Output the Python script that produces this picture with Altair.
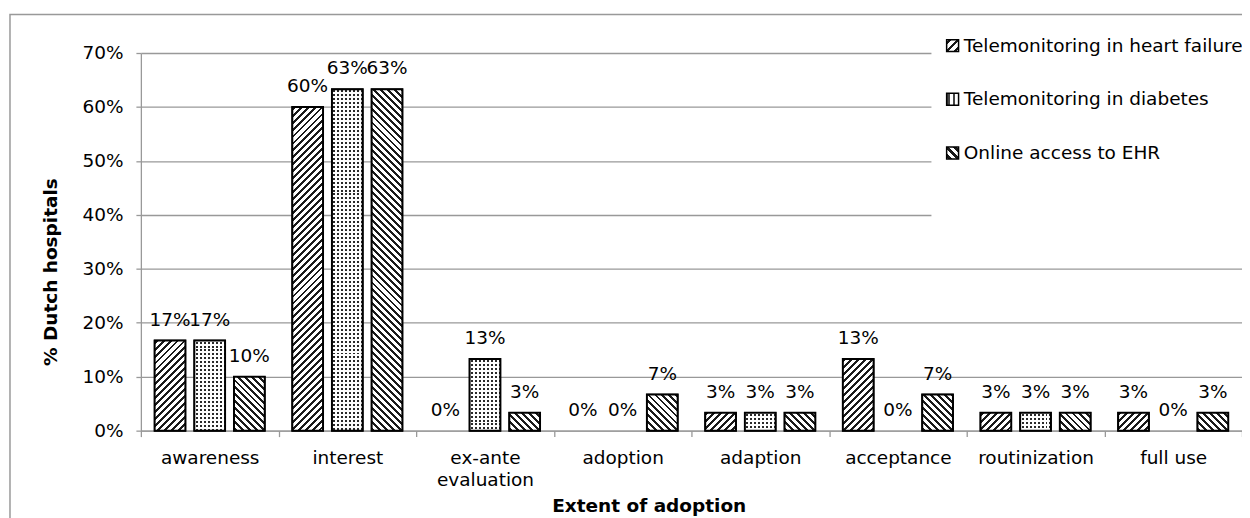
import altair as alt

# ---------------- data ----------------
categories = ["awareness", "interest", "ex-ante evaluation", "adoption",
              "adaption", "acceptance", "routinization", "full use"]
series = ["Telemonitoring in heart failure", "Telemonitoring in diabetes",
          "Online access to EHR"]
heart_failure = [0.167, 0.600, 0.000, 0.000, 0.033, 0.133, 0.033, 0.033]
diabetes = [0.167, 0.633, 0.133, 0.000, 0.033, 0.000, 0.033, 0.000]
online_ehr = [0.100, 0.633, 0.033, 0.067, 0.033, 0.067, 0.033, 0.033]
y_ticks = [0.0, 0.1, 0.2, 0.3, 0.4, 0.5, 0.6, 0.7]

# ---------------- layout / style ----------------
FONT = "DejaVu Sans"
FS = 18.6
PLOT_W, PLOT_H = 1108, 380
Y_MAX = 0.7
PAD_IN, PAD_OUT = 0.225, 0.347
GROUP = PLOT_W / len(categories)
STEP = GROUP / (3 - PAD_IN + 2 * PAD_OUT)
BAR_W = STEP * (1 - PAD_IN)
GRID = "#999999"


def _r(v):
    return round(v, 5)


def hatch(w, h, forward, period=7.0, frac=0.42, ink="#1a1a1a"):
    """Diagonal 45-degree stripes for a bar of w x h pixels (bbox gradient)."""
    L = w + h
    k = h / w
    s = (1 + k) / (1 + k * k)
    if forward:
        x1, y1, x2, y2 = 0, 0, s, s * k
    else:
        x1, y1, x2, y2 = 0, 1, s, 1 - s * k
    stops = []
    pos = 1.0
    stops.append({"offset": 0, "color": "white"})
    while pos < L:
        a = _r(pos / L)
        b = _r(min((pos + period * frac) / L, 1))
        stops += [{"offset": a, "color": "white"}, {"offset": a, "color": ink},
                  {"offset": b, "color": ink}, {"offset": b, "color": "white"}]
        pos += period
    stops.append({"offset": 1, "color": "white"})
    return {"gradient": "linear", "x1": _r(x1), "y1": _r(y1), "x2": _r(x2),
            "y2": _r(y2), "stops": stops}


def stripes(length, vertical, period, frac, on, off, phase):
    if vertical:
        x1, y1, x2, y2 = 0, 0, 0, 1
    else:
        x1, y1, x2, y2 = 0, 0, 1, 0
    stops = [{"offset": 0, "color": off}]
    pos = phase
    while pos < length:
        a = _r(pos / length)
        b = _r(min((pos + period * frac) / length, 1))
        stops += [{"offset": a, "color": off}, {"offset": a, "color": on},
                  {"offset": b, "color": on}, {"offset": b, "color": off}]
        pos += period
    stops.append({"offset": 1, "color": off})
    return {"gradient": "linear", "x1": x1, "y1": y1, "x2": x2, "y2": y2,
            "stops": stops}


records = []
for s_name, vals in zip(series, [heart_failure, diabetes, online_ehr]):
    for cat, v in zip(categories, vals):
        h = v / Y_MAX * PLOT_H
        rec = {"category": cat, "series": s_name, "value": v}
        if v > 0:
            if s_name == series[0]:
                rec["grad"] = hatch(BAR_W, h, True)
            elif s_name == series[2]:
                rec["grad"] = hatch(BAR_W, h, False)
            else:
                rec["grad"] = stripes(h, True, 4.0, 0.5, "#2a2a2a", "white", 1.0)
                rec["mask"] = stripes(BAR_W, False, 4.0, 0.5,
                                      "rgba(255,255,255,0)", "white", 1.5)
        records.append(rec)

data = alt.Data(values=records)


def legend_grad(kind):
    n = 3
    stops = []
    for i in range(n):
        a = i / n + 0.08
        b = a + 0.45 / n
        stops += ["{offset:%.4f,color:'white'}" % a, "{offset:%.4f,color:'#1a1a1a'}" % a,
                  "{offset:%.4f,color:'#1a1a1a'}" % b, "{offset:%.4f,color:'white'}" % b]
    st = "[{offset:0,color:'white'}," + ",".join(stops) + ",{offset:1,color:'white'}]"
    if kind == "fwd":
        return {"expr": "{gradient:'linear',x1:0,y1:0,x2:1,y2:1,stops:" + st + "}"}
    if kind == "bwd":
        return {"expr": "{gradient:'linear',x1:0,y1:1,x2:1,y2:0,stops:" + st + "}"}
    st2 = ("[{offset:0,color:'#444'},{offset:0.3,color:'#444'},{offset:0.3,color:'white'},"
           "{offset:0.5,color:'white'},{offset:0.5,color:'#444'},{offset:0.7,color:'#444'},"
           "{offset:0.7,color:'white'},{offset:1,color:'white'}]")
    return {"expr": "{gradient:'linear',x1:0,y1:0,x2:1,y2:0,stops:" + st2 + "}"}


x_enc = alt.X(
    "category:N", sort=categories,
    scale=alt.Scale(paddingInner=0, paddingOuter=0),
    axis=alt.Axis(
        title="Extent of adoption", titleFontSize=FS, titleFontWeight="bold",
        titleFont=FONT, titleColor="black", titleX=511, titleY=81.5,
        titleBaseline="alphabetic", labelFont=FONT, labelFontSize=FS,
        labelColor="black", labelAngle=0, labelPadding=12, labelLineHeight=22.7,
        labelLimit=300,
        labelExpr="datum.value == 'ex-ante evaluation' ? ['ex-ante', 'evaluation'] : datum.label",
        tickBand="extent", tickSize=6, tickColor=GRID, tickWidth=1.3,
        domainColor=GRID, domainWidth=1.3, grid=False),
)
xoff_enc = alt.XOffset("series:N", sort=series,
                       scale=alt.Scale(paddingInner=PAD_IN, paddingOuter=PAD_OUT))
y_enc = alt.Y(
    "value:Q", stack=None,
    scale=alt.Scale(domain=[0, Y_MAX], nice=False),
    axis=alt.Axis(
        title="% Dutch hospitals", titleFontSize=FS, titleFontWeight="bold",
        titleFont=FONT, titleColor="black", titleX=-80.7, titleY=220,
        values=y_ticks, format=".0%", labelFont=FONT, labelFontSize=FS,
        labelColor="black", labelPadding=13, tickSize=5, tickColor=GRID,
        tickWidth=1.3, domainColor=GRID, domainWidth=1.3, grid=True,
        gridColor=GRID, gridWidth=1.3),
)

base = alt.Chart(data).encode(x=x_enc, xOffset=xoff_enc, y=y_enc)
bars = base.transform_filter("datum.value > 0")

legend_layer = bars.mark_bar(stroke="black", strokeWidth=1.5).encode(
    fill=alt.Fill(
        "series:N", sort=series,
        scale=alt.Scale(domain=series,
                        range=[legend_grad("fwd"), legend_grad("dot"), legend_grad("bwd")]),
        legend=alt.Legend(
            orient="none", legendX=795.5, legendY=-28.7, title=" ",
            titleOrient="bottom", titlePadding=32, titleFontSize=18,
            fillColor="white", padding=12, symbolType="square", symbolSize=144,
            symbolStrokeColor="black", symbolStrokeWidth=1.5, labelFont=FONT,
            labelFontSize=FS, labelColor="black", labelOffset=2, rowPadding=35,
            labelLimit=400),
    )
)

pattern_layer = bars.mark_bar(strokeWidth=0).encode(
    color=alt.Color("grad:N", scale=None, legend=None)
)

mask_layer = bars.transform_filter(
    alt.datum.series == series[1]
).mark_bar(strokeWidth=0).encode(
    color=alt.Color("mask:N", scale=None, legend=None)
)

outline_layer = bars.mark_bar(fillOpacity=0, stroke="black", strokeWidth=2)

text_layer = base.mark_text(
    dy=-15, baseline="alphabetic", fontSize=FS, font=FONT, color="black"
).encode(text=alt.Text("value:Q", format=".0%"))

frame = alt.Chart(alt.Data(values=[{"frame": 1}])).mark_rect(
    fillOpacity=0, stroke=GRID, strokeWidth=1.5
).encode(
    x=alt.value(-131.7), x2=alt.value(PLOT_W + 30),
    y=alt.value(-38.7), y2=alt.value(PLOT_H + 100),
)

chart = alt.layer(
    frame, legend_layer, pattern_layer, mask_layer, outline_layer, text_layer
).properties(
    width=PLOT_W, height=PLOT_H,
    padding={"left": 133.7, "top": 43.7, "right": 0, "bottom": 86},
    autosize=alt.AutoSizeParams(type="none"),
).configure(font=FONT).configure_view(strokeWidth=0)

chart.save("out.html", embed_options={"renderer": "svg", "actions": False})
